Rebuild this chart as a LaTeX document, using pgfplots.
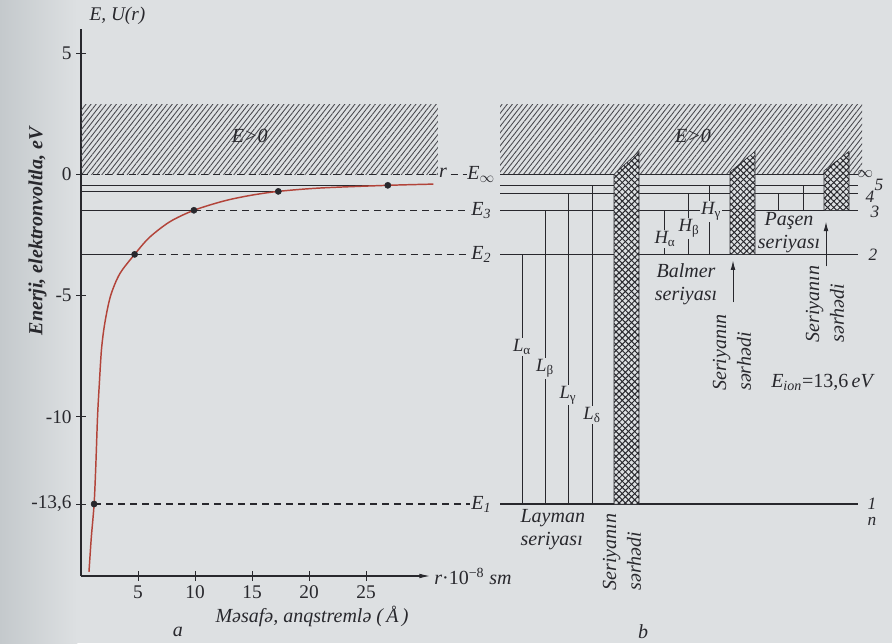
\documentclass[border=0pt]{standalone}
\usepackage{fontspec}
\setmainfont{Liberation Serif}
\usepackage{pgfplots}
\pgfplotsset{compat=1.18}
\usetikzlibrary{patterns.meta,arrows.meta}
\definecolor{bg}{RGB}{221,224,226}
\definecolor{bgdark}{RGB}{196,201,204}
\definecolor{ink}{RGB}{40,40,45}
\definecolor{curvec}{RGB}{178,68,58}
\definecolor{hatch}{RGB}{72,72,78}
\tikzset{
  hatchfill/.style={draw=none,pattern={Lines[angle=52,distance=3pt,line width=0.65pt]},pattern color=hatch},
  xh1/.style={draw=none,pattern={Lines[angle=45,distance=3.3pt,line width=0.75pt]},pattern color=ink},
  xh2/.style={draw=none,pattern={Lines[angle=-45,distance=3.3pt,line width=0.75pt]},pattern color=ink},
  lvl/.style={ink,line width=0.8pt},
  trn/.style={ink,line width=0.6pt},
  dsh/.style={ink,line width=0.8pt,dash pattern=on 5.5pt off 3.5pt},
  lab/.style={font=\fontsize{15}{17}\selectfont\itshape,text=ink,inner sep=1pt},
  glab/.style={font=\fontsize{14}{16}\selectfont\itshape,text=ink,fill=bg,inner sep=1pt},
  nlab/.style={font=\fontsize{13}{15}\selectfont\itshape,text=ink,inner sep=0pt},
}
\newcommand{\xbar}[1]{%
  \addplot[fill=bg,draw=none] coordinates {#1};
  \addplot[xh1] coordinates {#1};
  \addplot[xh2] coordinates {#1};
  \addplot[ink,line width=0.4pt] coordinates {#1};}
\begin{document}
\begin{tikzpicture}
\useasboundingbox (0,0) rectangle (669pt,482.25pt);
\fill[bg] (0,0) rectangle (669pt,482.25pt);
\shade[left color=bgdark,right color=bg] (0,0) rectangle (58pt,482.25pt);
% ---------------- panel a ----------------
\begin{axis}[
  at={(60.75pt,50.25pt)}, anchor=south west, scale only axis,
  width=261.75pt, height=410.25pt,
  xmin=0, xmax=30.6, ymin=-16.57, ymax=6,
  axis lines=left, clip=false,
  axis line style={ink,line width=0.8pt},
  x axis line style={-{Latex[length=8pt,width=3.5pt]}},
  y axis line style={-},
  xtick={5,10,15,20,25}, xticklabels={5,10,15,20,25},
  ytick={-13.6,-10,-5,0,5}, yticklabels={{-13,6},-10,-5,0,5},
  tick align=center, major tick length=7pt,
  tick style={ink,line width=0.7pt},
  tick label style={font=\fontsize{14.5}{16}\selectfont,text=ink},
]
\addplot[hatchfill] coordinates {(0,0) (31.3,0) (31.3,2.9) (0,2.9) (0,0)};
% levels
\addplot[dsh] coordinates {(0,0) (31.3,0)};
\addplot[dsh] coordinates {(32.4,0) (33.8,0)};
\addplot[lvl] coordinates {(0,-0.45) (26.9,-0.45)};
\addplot[lvl] coordinates {(0,-0.70) (17.3,-0.70)};
\addplot[lvl] coordinates {(0,-1.48) (9.9,-1.48)};
\addplot[dsh] coordinates {(9.9,-1.48) (34.1,-1.48)};
\addplot[lvl] coordinates {(0,-3.3) (4.7,-3.3)};
\addplot[dsh] coordinates {(4.7,-3.3) (34.1,-3.3)};
\addplot[dsh] coordinates {(1.15,-13.6) (34.1,-13.6)};
% potential curve
\addplot[curvec,line width=1.1pt,smooth] coordinates {
 (0.70,-16.4) (0.9,-15.0) (1.15,-13.6) (1.3,-12.0) (1.45,-10.0) (1.6,-8.7)
 (1.8,-7.2) (2.1,-6.1) (2.6,-5.0) (3.4,-4.1) (4.7,-3.3) (6.0,-2.6) (7.8,-1.95)
 (9.9,-1.48) (12.5,-1.1) (14.8,-0.87) (17.3,-0.70) (21.0,-0.56) (26.9,-0.45) (30.9,-0.40)};
\addplot[only marks,mark=*,mark size=2.3pt,ink] coordinates {
 (1.15,-13.6) (4.7,-3.3) (9.9,-1.48) (17.3,-0.70) (26.9,-0.45)};
% texts
\node[lab] at (axis cs:14.8,1.57) {E>0};
\node[lab] at (axis cs:31.75,0.05) {r};
\node[lab,anchor=west,inner sep=0pt] at (axis cs:33.85,0) {E$_\infty$};
\node[lab,anchor=west,inner sep=0pt] at (axis cs:34.2,-1.48) {E\textsubscript{3}};
\node[lab,anchor=west,inner sep=0pt] at (axis cs:34.2,-3.3) {E\textsubscript{2}};
\node[lab,anchor=west,inner sep=0pt] at (axis cs:34.2,-13.6) {E\textsubscript{1}};
\node[lab,font=\fontsize{14.5}{16}\selectfont\itshape] at (axis cs:3.2,6.56) {E, U(r)};
\node[lab,font=\fontsize{15}{17}\selectfont\bfseries\itshape,rotate=90] at (axis cs:-3.8,-2.35) {Enerji, elektronvoltla, eV};
\node[lab,anchor=west,inner sep=0pt] at (axis cs:30.95,-16.6) {r\textup{·10\textsuperscript{−8}} sm};
\node[lab] at (axis cs:20.26,-18.23) {Məsafə, anqstremlə (\,Å\,)};
\node[lab] at (axis cs:8.5,-18.89) {a};
\end{axis}
% ---------------- panel b ----------------
\begin{axis}[
  at={(375pt,50.25pt)}, anchor=south west, scale only axis,
  width=270pt, height=410.25pt,
  xmin=500, xmax=860, ymin=-16.57, ymax=6,
  hide axis, clip=false,
]
\addplot[hatchfill] coordinates {(500,0) (862,0) (862,2.9) (500,2.9) (500,0)};
% levels
\addplot[lvl] coordinates {(500,0) (858,0)};
\addplot[lvl] coordinates {(500,-0.47) (858,-0.47)};
\addplot[lvl] coordinates {(500,-0.78) (858,-0.78)};
\addplot[lvl] coordinates {(500,-1.48) (858,-1.48)};
\addplot[lvl] coordinates {(500,-3.3) (858,-3.3)};
\addplot[lvl] coordinates {(500,-13.6) (858,-13.6)};
% Lyman transitions
\addplot[trn] coordinates {(522,-13.6) (522,-3.3)};
\addplot[trn] coordinates {(545,-13.6) (545,-1.48)};
\addplot[trn] coordinates {(568,-13.6) (568,-0.78)};
\addplot[trn] coordinates {(592,-13.6) (592,-0.47)};
% Balmer transitions
\addplot[trn] coordinates {(664,-3.3) (664,-1.48)};
\addplot[trn] coordinates {(688,-3.3) (688,-0.78)};
\addplot[trn] coordinates {(709,-3.3) (709,-0.47)};
% Paschen transitions
\addplot[trn] coordinates {(778,-1.48) (778,-0.78)};
\addplot[trn] coordinates {(803,-1.48) (803,-0.47)};
% series limits
\xbar{(614,-13.6) (639,-13.6) (639,0.95) (614,0.0) (614,-13.6)}
\xbar{(730,-3.3) (755,-3.3) (755,0.95) (730,0.1) (730,-3.3)}
\xbar{(824,-1.48) (849,-1.48) (849,0.95) (824,0.15) (824,-1.48)}
% arrows
\addplot[ink,line width=0.7pt,-{Latex[length=7pt,width=3.5pt]}] coordinates {(733,-5.28) (733,-3.55)};
\addplot[ink,line width=0.7pt,-{Latex[length=7pt,width=3.5pt]}] coordinates {(826,-3.79) (826,-1.95)};
% labels
\node[lab] at (axis cs:693,1.57) {E>0};
\node[glab] at (axis cs:522,-7.13) {L\textsubscript{\textup{α}}};
\node[glab] at (axis cs:545,-8.0) {L\textsubscript{\textup{β}}};
\node[glab] at (axis cs:568,-9.11) {L\textsubscript{\textup{γ}}};
\node[glab] at (axis cs:592,-9.94) {L\textsubscript{\textup{δ}}};
\node[glab] at (axis cs:665,-2.66) {H\textsubscript{\textup{α}}};
\node[glab] at (axis cs:689,-2.23) {H\textsubscript{\textup{β}}};
\node[glab] at (axis cs:711,-1.53) {H\textsubscript{\textup{γ}}};
\node[lab,align=center] at (axis cs:686,-4.54) {Balmer\\seriyası};
\node[lab,align=center] at (axis cs:789,-2.39) {Paşen\\seriyası};
\node[lab,align=left,anchor=north west] at (axis cs:519,-13.75) {Layman\\seriyası};
\node[lab,font=\fontsize{15}{18.5}\selectfont\itshape,align=left,rotate=90,anchor=west] at (axis cs:732,-8.99) {Seriyanın\\sərhədi};
\node[lab,font=\fontsize{15}{18.5}\selectfont\itshape,align=left,rotate=90,anchor=west] at (axis cs:825,-7.0) {Seriyanın\\sərhədi};
\node[lab,font=\fontsize{15}{18.5}\selectfont\itshape,align=left,rotate=90,anchor=west] at (axis cs:622,-17.24) {Seriyanın\\sərhədi};
\node[lab] at (axis cs:822,-8.58) {E\textsubscript{ion}\textup{=13,6}\,eV};
\node[lab] at (axis cs:643,-18.85) {b};
\node[nlab] at (axis cs:865,0.0) {$\infty$};
\node[nlab] at (axis cs:879,-0.42) {5};
\node[nlab] at (axis cs:870,-0.92) {4};
\node[nlab] at (axis cs:875,-1.55) {3};
\node[nlab] at (axis cs:873,-3.3) {2};
\node[nlab] at (axis cs:872,-13.57) {1};
\node[nlab] at (axis cs:872,-14.3) {n};
\end{axis}
\end{tikzpicture}
\end{document}
